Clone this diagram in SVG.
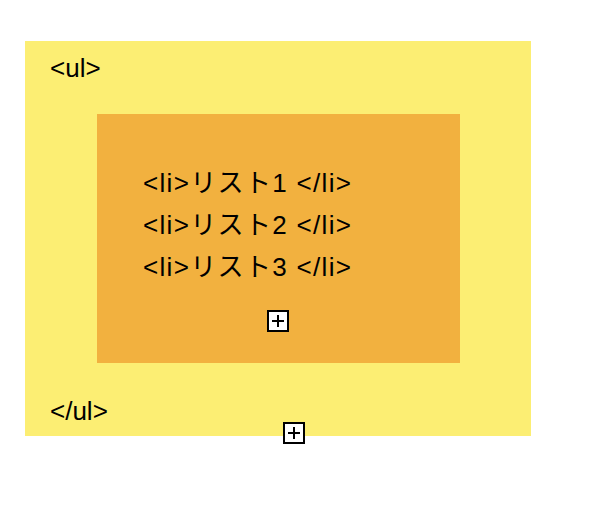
<svg xmlns="http://www.w3.org/2000/svg" width="608" height="528" viewBox="0 0 608 528">
<style>
.t{font-family:"Liberation Sans","Noto Sans CJK JP",sans-serif;font-size:26px;fill:#000}
.btn{fill:#fff;stroke:#000;stroke-width:2}
.pl{stroke:#000;stroke-width:2;fill:none}
</style>
<rect width="608" height="528" fill="#fff"/>
<g id="ul">
<rect x="25" y="41" width="506" height="395" fill="#fcee73"/>
<text class="t" x="50" y="77">&lt;ul&gt;</text>
<text class="t" x="50" y="420">&lt;/ul&gt;</text>
</g>
<g id="li">
<rect x="97" y="114" width="363" height="249" fill="#f2b13f"/>
<text class="t" x="143" y="192" textLength="208" lengthAdjust="spacing">&lt;li&gt;リスト1 &lt;/li&gt;</text>
<text class="t" x="143" y="234" textLength="208" lengthAdjust="spacing">&lt;li&gt;リスト2 &lt;/li&gt;</text>
<text class="t" x="143" y="276" textLength="208" lengthAdjust="spacing">&lt;li&gt;リスト3 &lt;/li&gt;</text>
</g>
<g id="btn1">
<rect class="btn" x="268" y="311" width="20" height="20"/>
<path class="pl" d="M272 321H284M278 315V327"/>
</g>
<g id="btn2">
<rect class="btn" x="284" y="423" width="20" height="20"/>
<path class="pl" d="M288 433H300M294 427V439"/>
</g>
<g id="connectors"/>
</svg>
